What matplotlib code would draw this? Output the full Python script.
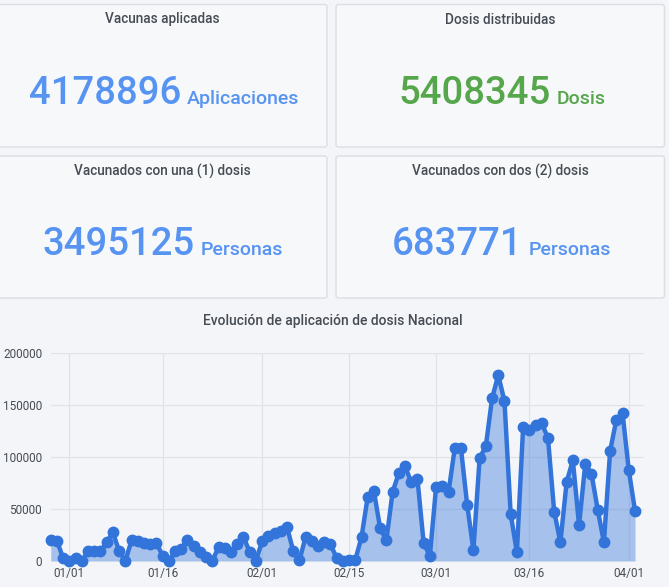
import pandas as pd
import matplotlib.pyplot as plt
import matplotlib.dates as mdates
from matplotlib.patches import FancyBboxPatch

plt.rcParams['font.family'] = ['Roboto', 'DejaVu Sans']

W, H = 669, 587

# stat cards
card_titles = ["Vacunas aplicadas", "Dosis distribuidas",
               "Vacunados con una (1) dosis", "Vacunados con dos (2) dosis"]
card_values = ["4178896", "5408345", "3495125", "683771"]
card_units = ["Aplicaciones", "Dosis", "Personas", "Personas"]
card_colors = ["#5794F2", "#56A64B", "#5794F2", "#5794F2"]

# daily applied doses, 2020-12-29 .. 2021-04-02
start_date = "2020-12-29"
daily_doses = [
    20000, 19500, 2500, 0, 3000, 0, 9500, 10000, 9500, 18000,
    27500, 9500, 0, 20000, 19000, 17000, 16500, 17500, 5000, 0,
    9500, 12000, 20000, 14000, 8500, 3500, 0, 13500, 12500, 9000,
    16000, 23000, 9000, 0, 19000, 24000, 27000, 29000, 33000, 10000,
    500, 23000, 19000, 14000, 18500, 16000, 3000, 0, 1000, 1000,
    23000, 62000, 67000, 31500, 20000, 66500, 84500, 91000, 76000, 79000,
    17000, 5000, 71500, 72000, 66500, 108500, 108500, 54000, 10500, 99000,
    110500, 156500, 179000, 154000, 45000, 8500, 129000, 126000, 130500, 132500,
    118500, 47500, 18000, 76000, 97000, 34500, 93500, 84000, 49500, 18000,
    106000, 136000, 142500, 87500, 48500,
]
x_ticks = ["2021-01-01", "2021-01-16", "2021-02-01", "2021-02-15",
           "2021-03-01", "2021-03-16", "2021-04-01"]
y_ticks = [0, 50000, 100000, 150000, 200000]


def fx(x):
    return x / W


def fy(y):
    return 1 - y / H


def DrawCard(fig, box, title, value, unit, color, split):
    x0, y0, x1, y1 = box
    patch = FancyBboxPatch((fx(x0), fy(y1)), fx(x1 - x0), (y1 - y0) / H,
                           boxstyle="round,pad=0,rounding_size=0.004",
                           transform=fig.transFigure, facecolor="#f7f8fa",
                           edgecolor="#dcdee3", linewidth=1.0)
    fig.add_artist(patch)
    fig.text(fx((x0 + x1) / 2 if x0 > 0 else 162.5), fy(y0 + 15), title,
             ha="center", va="center", fontsize=9.8, color="#464c54",
             fontweight="medium")
    base = y0 + 99.5
    fig.text(fx(split - 3), fy(base), value, ha="right", va="baseline",
             fontsize=27.5, color=color, fontweight="medium")
    fig.text(fx(split + 3), fy(base), unit, ha="left", va="baseline",
             fontsize=14, color=color, fontweight="medium")


def DrawChart(fig):
    dates = pd.date_range(start_date, periods=len(daily_doses), freq="D")
    left, right, top, bottom = 50.5, 644, 353.3, 561
    ax = fig.add_axes([fx(left), fy(bottom), fx(right - left), (bottom - top) / H])
    ax.set_facecolor("none")
    ax.fill_between(dates, daily_doses, color="#3274D9", alpha=0.4, lw=0)
    ax.plot(dates, daily_doses, color="#3274D9", lw=3.2, marker="o",
            markersize=7.5, clip_on=False, zorder=3)
    ax.set_xlim(dates[0] - pd.Timedelta(hours=1),
                dates[0] + pd.Timedelta(days=95.45))
    ax.set_ylim(0, 200000)
    ax.set_xticks(pd.to_datetime(x_ticks))
    ax.xaxis.set_major_formatter(mdates.DateFormatter("%m/%d"))
    ax.set_yticks(y_ticks)
    ax.set_yticklabels([str(v) for v in y_ticks])
    ax.grid(True, color="#e2e3e6", lw=0.9)
    ax.set_axisbelow(True)
    for s in ax.spines.values():
        s.set_visible(False)
    ax.tick_params(length=0, labelsize=8.5, labelcolor="#464c54", pad=6)
    ax.tick_params(axis="x", pad=4)
    fig.text(fx(332.5), fy(321), "Evolución de aplicación de dosis Nacional",
             ha="center", va="center", fontsize=10, color="#464c54",
             fontweight="medium")


def main():
    fig = plt.figure(figsize=(W / 100, H / 100), dpi=100)
    fig.patch.set_facecolor("#f4f5f8")

    boxes = [(-5, 4.5, 327, 147), (336, 4.5, 664.5, 147),
             (-5, 156, 327, 298), (336, 156, 664.5, 298)]
    splits = [184, 554, 198, 525.5]
    for i in range(4):
        DrawCard(fig, boxes[i], card_titles[i], card_values[i], card_units[i],
                 card_colors[i], splits[i])

    DrawChart(fig)
    fig.savefig("out.png", dpi=100, facecolor=fig.get_facecolor())
    plt.close(fig)


if __name__ == "__main__":
    main()
